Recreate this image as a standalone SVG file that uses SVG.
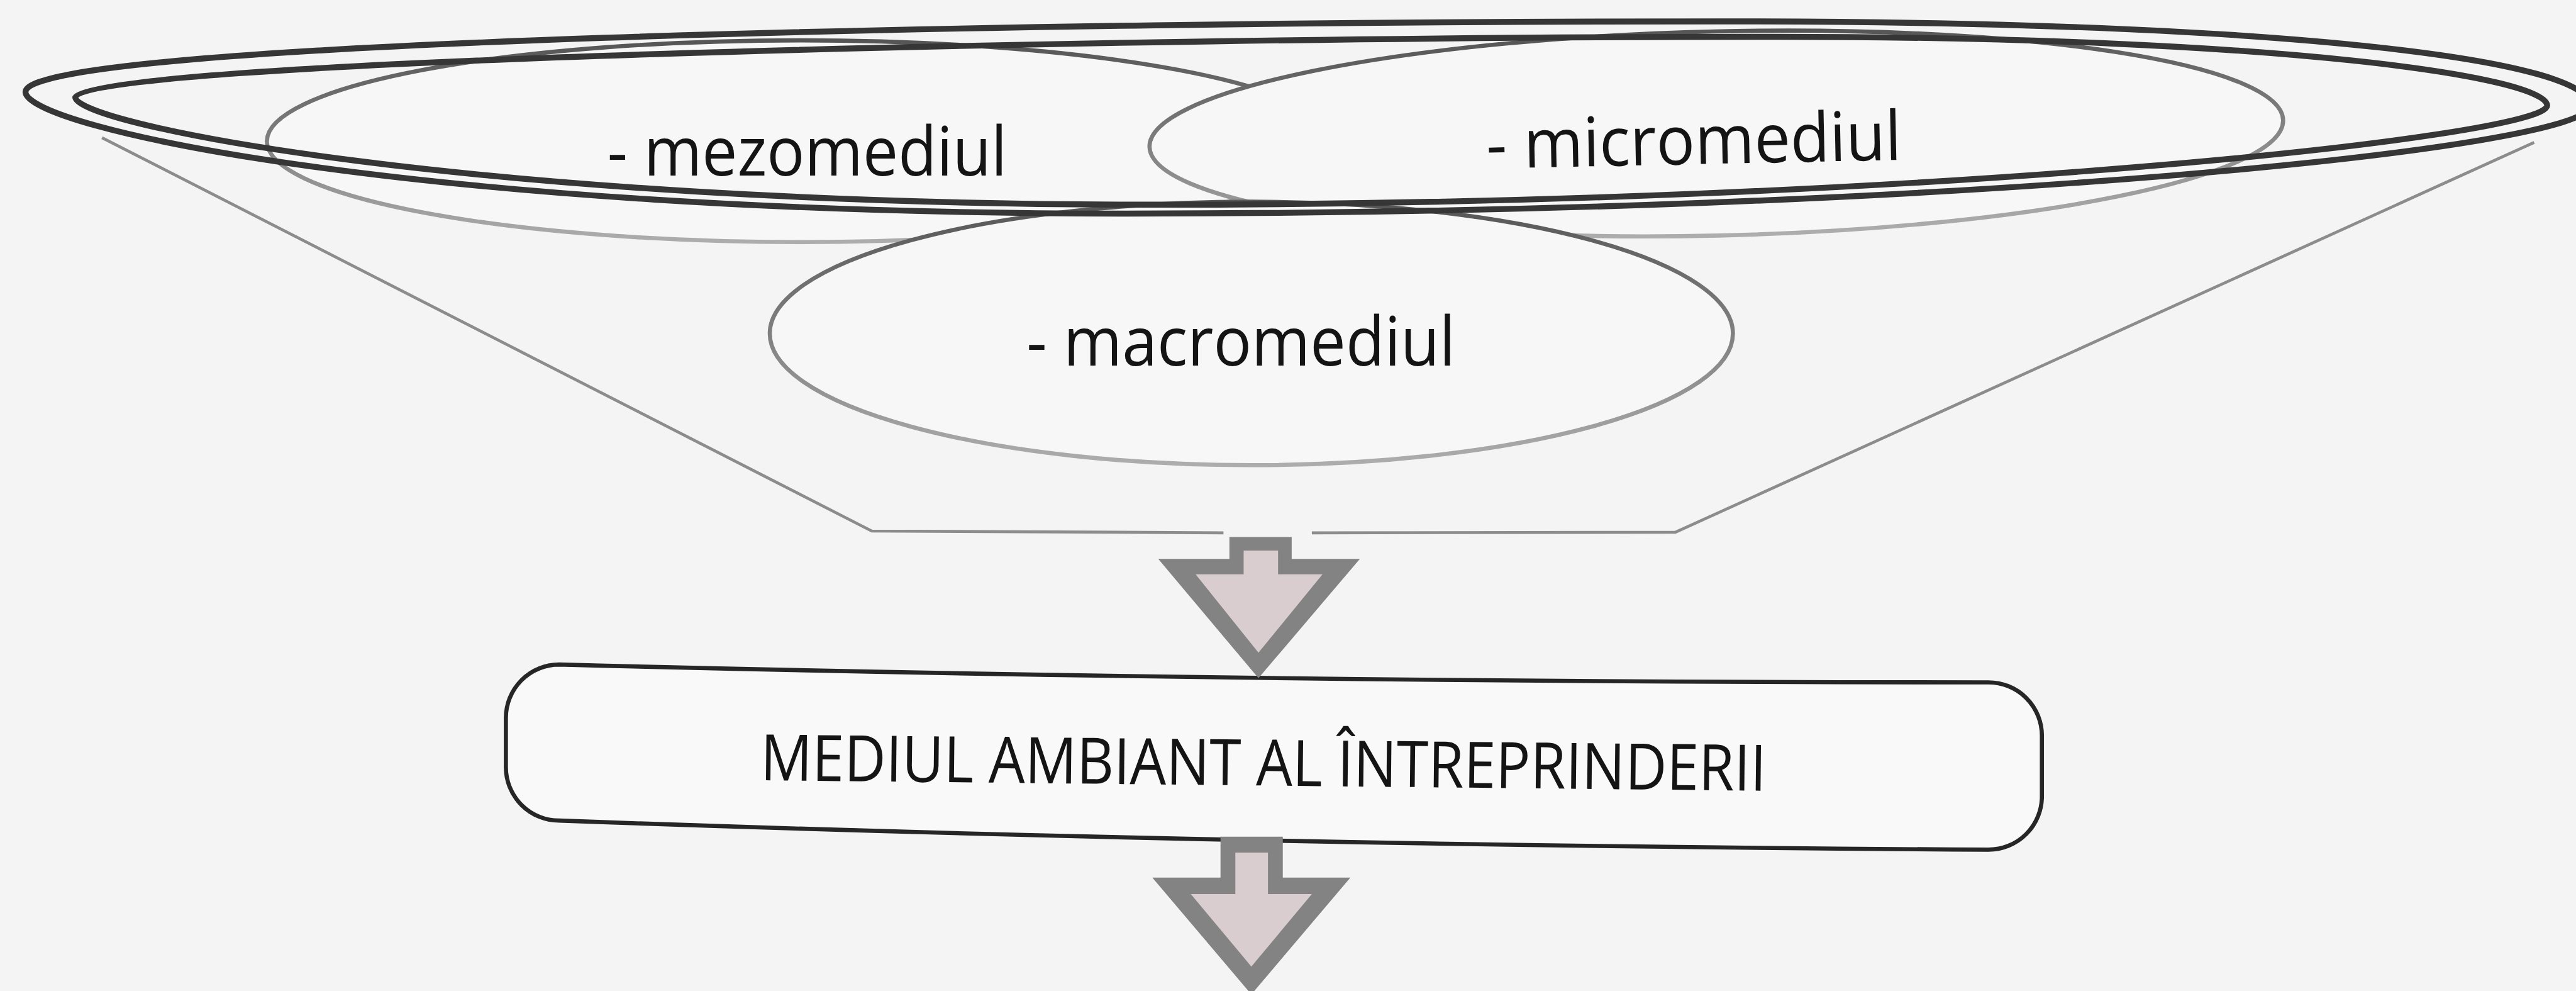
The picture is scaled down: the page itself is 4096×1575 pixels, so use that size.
<svg xmlns="http://www.w3.org/2000/svg" width="4096" height="1575" viewBox="0 0 4096 1575">
<defs>
  <linearGradient id="edge" x1="0" y1="0" x2="0" y2="1">
    <stop offset="0" stop-color="#555555"/>
    <stop offset="0.5" stop-color="#808080"/>
    <stop offset="1" stop-color="#adadad"/>
  </linearGradient>
</defs>
<style>
  .ring{fill:none;stroke:#363636;stroke-width:10}
  .env{fill:#f7f7f7;stroke:url(#edge);stroke-width:7}
  .lbl{font-family:"Open Sans","Noto Sans",sans-serif;font-size:115px;fill:#141414}
  .title{font-family:"Open Sans","Noto Sans",sans-serif;font-size:108px;fill:#141414}
  .funnel{fill:none;stroke:#8c8c8c;stroke-width:5}
  .arrow-out{fill:#838383}
  .arrow-in{fill:#dacdd0}
  .box{fill:#f9f9f9;stroke:#262626;stroke-width:7}
</style>
<rect x="0" y="0" width="4096" height="1575" fill="#f4f4f4"/>
<g transform="scale(0.943)">
  <g id="funnel">
    <path class="funnel" d="M172,232 L1470,895 L2063,898 M2212,898 L2825,897 L4273,240"/>
  </g>
  <g id="mezomediul">
    <ellipse class="env" cx="1350" cy="238" rx="900" ry="170"/>
    <text class="lbl" x="1024" y="296" textLength="674" lengthAdjust="spacingAndGlyphs">- mezomediul</text>
  </g>
  <g id="micromediul">
    <ellipse class="env" cx="2894" cy="225" rx="956" ry="172" transform="rotate(-1.35 2894 225)"/>
    <text class="lbl" x="2507" y="284" textLength="700" lengthAdjust="spacingAndGlyphs" transform="rotate(-1.2 2507 284)">- micromediul</text>
  </g>
  <g id="macromediul">
    <ellipse class="env" cx="2110" cy="562" rx="812" ry="222"/>
    <text class="lbl" x="1731" y="616" textLength="723" lengthAdjust="spacingAndGlyphs">- macromediul</text>
  </g>
  <g id="outer-ring">
    <path class="ring" d="M43,155 C43,70 1700,36 2900,36 C3900,36 4368,105 4368,178 C4368,250 3300,360 1900,360 C700,360 43,215 43,155 Z"/>
    <path class="ring" d="M127,164 C127,105 1800,62 3000,62 C3850,62 4295,130 4295,178 C4295,230 3250,345 1950,345 C800,345 127,210 127,164 Z"/>
  </g>
  <g id="mediul-ambiant">
    <path class="box" d="M943,1120 Q2100,1150 3353,1150 A90,90 0 0 1 3443,1240 L3443,1342 A90,90 0 0 1 3353,1432 Q2100,1425 943,1383 A90,90 0 0 1 853,1293 L853,1210 A90,90 0 0 1 943,1120 Z"/>
    <text class="title" x="1282" y="1315" textLength="1696" lengthAdjust="spacingAndGlyphs" transform="rotate(0.6 1282 1315)">MEDIUL AMBIANT AL ÎNTREPRINDERII</text>
  </g>
  <g id="connectors">
    <g id="arrow-1">
      <polygon class="arrow-out" points="2073,905 2178,905 2178,942 2293,942 2122,1143 1953,942 2073,942"/>
      <polygon class="arrow-in" points="2097,928 2155,928 2155,968 2230,968 2122,1100 2016,968 2097,968"/>
    </g>
    <g id="arrow-2">
      <polygon class="arrow-out" points="2058,1410 2163,1410 2163,1479 2277,1479 2110,1676 1943,1479 2058,1479"/>
      <polygon class="arrow-in" points="2083,1437 2138,1437 2138,1507 2212,1507 2110,1629 2008,1507 2083,1507"/>
    </g>
  </g>
</g>
</svg>
